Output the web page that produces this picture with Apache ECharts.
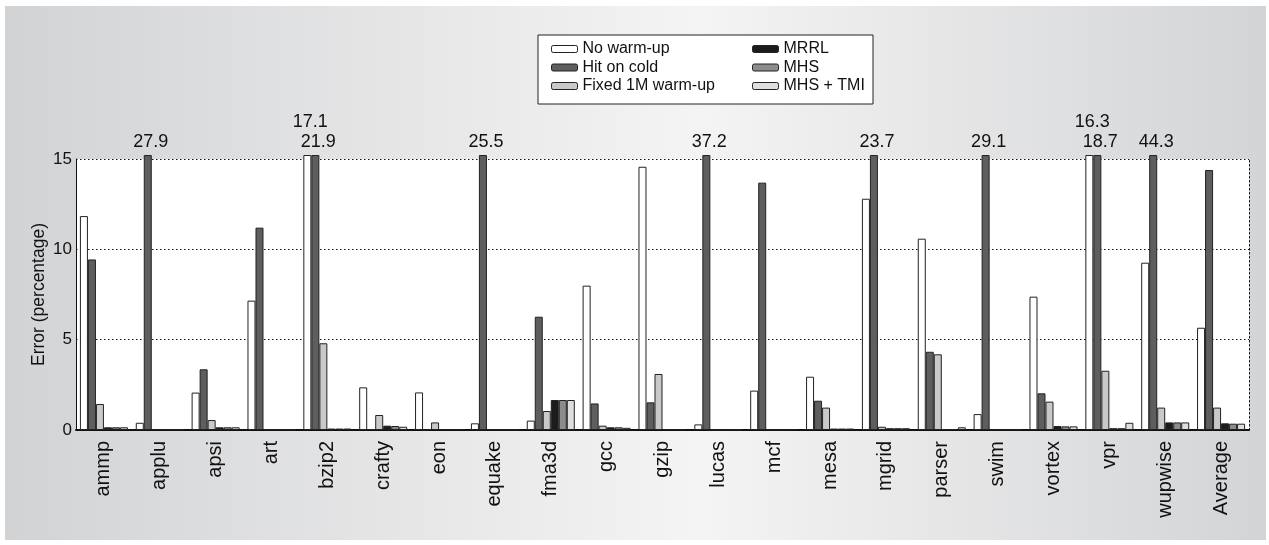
<!DOCTYPE html>
<html>
<head>
<meta charset="utf-8">
<script src="https://cdn.jsdelivr.net/npm/echarts@6/dist/echarts.min.js"></script>
<style>html,body{margin:0;padding:0;background:#fff}#c{width:1269px;height:545px}</style>
</head>
<body>
<div id="c"></div>
<script>
const categories = ["ammp","applu","apsi","art","bzip2","crafty","eon","equake","fma3d","gcc","gzip","lucas","mcf","mesa","mgrid","parser","swim","vortex","vpr","wupwise","Average"];
const seriesNames = ["No warm-up","Hit on cold","Fixed 1M warm-up","MRRL","MHS","MHS + TMI"];
const noWarmup   = [11.84,0.40,2.07,7.16,17.1,2.36,2.08,0.37,0.52,7.99,14.57,0.31,2.18,2.95,12.8,10.59,0.88,7.38,16.3,9.26,5.66];
const hitOnCold  = [9.44,27.9,3.36,11.2,21.9,0.05,0.03,25.5,6.27,1.47,1.53,37.2,13.69,1.62,23.7,4.33,29.1,2.03,18.7,44.3,14.39];
const fixed1M    = [1.44,0.05,0.55,0.03,4.8,0.83,0.42,0.03,1.05,0.24,3.1,0.02,0.03,1.24,0.18,4.19,0.02,1.57,3.28,1.24,1.24];
const mrrl       = [0.15,0.03,0.15,0.03,0.08,0.24,0.05,0.03,1.66,0.15,0.05,0.02,0.03,0.08,0.10,0.05,0.02,0.22,0.10,0.42,0.37];
const mhs        = [0.15,0.03,0.15,0.03,0.08,0.22,0.05,0.03,1.66,0.15,0.05,0.02,0.03,0.08,0.10,0.05,0.02,0.20,0.10,0.42,0.35];
const mhsTmi     = [0.15,0.03,0.15,0.03,0.08,0.18,0.05,0.03,1.66,0.12,0.05,0.02,0.05,0.08,0.10,0.15,0.02,0.20,0.40,0.42,0.35];
const yTicks = [0,5,10,15];

const allValues = [noWarmup,hitOnCold,fixed1M,mrrl,mhs,mhsTmi];
const colors = ["#ffffff","#5e5e5e","#c9c9c9","#1c1c1c","#8c8c8c","#dedede"];
const AXIS_MAX = 15;
const CAP = 15.22;
const FONT = "Liberation Sans, Arial, sans-serif";

const series = seriesNames.map((name,i) => ({
  name: name,
  type: 'bar',
  barGap: '0%',
  barCategoryGap: '14%',
  clip: false,
  itemStyle: {color: colors[i], borderColor: '#222', borderWidth: 1},
  emphasis: {disabled: true},
  data: allValues[i].map(v => ({
    value: Math.min(v, CAP),
    label: {
      show: v > AXIS_MAX,
      position: 'top',
      distance: i === 0 ? 24 : 4,
      offset: [3, 0],
      formatter: String(v),
      color: '#111',
      fontSize: 18,
      fontFamily: FONT
    }
  }))
}));

const chart = echarts.init(document.getElementById('c'), null, {renderer: 'canvas'});
chart.setOption({
  animation: false,
  graphic: [
    {type: 'rect', z: -10, silent: true, shape: {x: 5, y: 6, width: 1261, height: 534},
     style: {fill: new echarts.graphic.LinearGradient(0,0,1,0,[
       {offset: 0, color: '#d2d3d5'},
       {offset: 0.55, color: '#f4f4f4'},
       {offset: 1, color: '#d3d4d6'}
     ])}},
    {type: 'rect', z: 1, silent: true, shape: {x: 538, y: 35, width: 335, height: 69},
     style: {fill: '#ffffff', stroke: '#222', lineWidth: 1}}
  ],
  legend: [
    {data: seriesNames.slice(0,3), orient: 'vertical', left: 546, top: 36, itemWidth: 26, itemHeight: 7, itemGap: 2.5,
     textStyle: {fontSize: 16, fontFamily: FONT, color: '#111', lineHeight: 16}, selectedMode: false,
     itemStyle: {borderColor: '#222', borderWidth: 1}},
    {data: seriesNames.slice(3), orient: 'vertical', left: 747, top: 36, itemWidth: 26, itemHeight: 7, itemGap: 2.5,
     textStyle: {fontSize: 16, fontFamily: FONT, color: '#111', lineHeight: 16}, selectedMode: false,
     itemStyle: {borderColor: '#222', borderWidth: 1}}
  ],
  grid: {left: 76, right: 20, top: 159, bottom: 115, show: true, backgroundColor: '#ffffff', borderWidth: 0},
  xAxis: {
    type: 'category',
    data: categories,
    axisLine: {lineStyle: {color: '#111', width: 2}},
    axisTick: {show: false},
    axisLabel: {rotate: 90, fontSize: 20, fontFamily: FONT, color: '#111', margin: 11, interval: 0}
  },
  yAxis: [
    {
      type: 'value', min: 0, max: AXIS_MAX, interval: 5,
      name: 'Error (percentage)', nameLocation: 'middle', nameGap: 28, nameMoveOverlap: false,
      nameTextStyle: {fontSize: 17.5, fontFamily: FONT, color: '#111'},
      axisLine: {show: true, lineStyle: {color: '#111', width: 1}},
      axisTick: {show: false},
      axisLabel: {fontSize: 17, fontFamily: FONT, color: '#111', margin: 4,
                  formatter: v => yTicks.includes(v) ? String(v) : ''},
      splitLine: {show: true, lineStyle: {color: '#111', type: [1.5, 2.5], width: 1}}
    },
    {
      type: 'value', min: 0, max: AXIS_MAX, interval: 5, position: 'right',
      axisLine: {show: true, lineStyle: {color: '#111', type: [1.5, 2.5], width: 1}},
      axisTick: {show: false}, axisLabel: {show: false}, splitLine: {show: false}
    }
  ],
  series: series
});
</script>
</body>
</html>
